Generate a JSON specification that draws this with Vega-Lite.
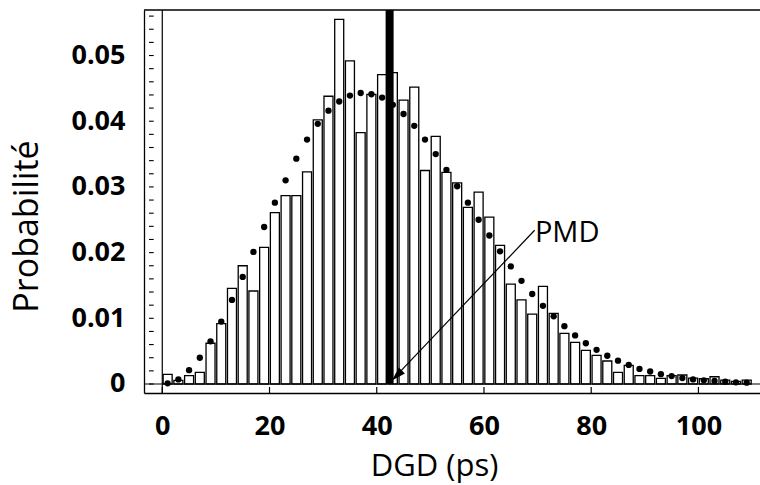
{
  "$schema": "https://vega.github.io/schema/vega-lite/v6.json",
  "width": 616,
  "height": 383,
  "autosize": {"type": "none"},
  "padding": {"left": 144, "top": 10, "right": 0, "bottom": 92},
  "background": "white",
  "config": {
    "view": {"stroke": null},
    "axis": {"grid": false, "domainColor": "black", "tickColor": "black", "labelColor": "black", "titleColor": "black", "labelFont": "Open Sans", "titleFont": "Open Sans"}
  },
  "datasets": {
    "dgd": [
      {"dgd": 1, "sim": 0.00147, "theo": 0.0001},
      {"dgd": 3, "sim": 0.00056, "theo": 0.0007},
      {"dgd": 5, "sim": 0.00127, "theo": 0.0021},
      {"dgd": 7, "sim": 0.00178, "theo": 0.0040},
      {"dgd": 9, "sim": 0.0062, "theo": 0.0065},
      {"dgd": 11, "sim": 0.00918, "theo": 0.0095},
      {"dgd": 13, "sim": 0.01456, "theo": 0.0128},
      {"dgd": 15, "sim": 0.0180, "theo": 0.0163},
      {"dgd": 17, "sim": 0.01416, "theo": 0.0201},
      {"dgd": 19, "sim": 0.0208, "theo": 0.0239},
      {"dgd": 21, "sim": 0.0261, "theo": 0.0276},
      {"dgd": 23, "sim": 0.02867, "theo": 0.0310},
      {"dgd": 25, "sim": 0.02867, "theo": 0.0343},
      {"dgd": 27, "sim": 0.0323, "theo": 0.0372},
      {"dgd": 29, "sim": 0.0402, "theo": 0.0396},
      {"dgd": 31, "sim": 0.0438, "theo": 0.0416},
      {"dgd": 33, "sim": 0.0555, "theo": 0.0430},
      {"dgd": 35, "sim": 0.0492, "theo": 0.0439},
      {"dgd": 37, "sim": 0.03825, "theo": 0.0443},
      {"dgd": 39, "sim": 0.0441, "theo": 0.0441},
      {"dgd": 41, "sim": 0.0471, "theo": 0.0436},
      {"dgd": 43, "sim": 0.0474, "theo": 0.0425},
      {"dgd": 45, "sim": 0.0432, "theo": 0.0411},
      {"dgd": 47, "sim": 0.0452, "theo": 0.0393},
      {"dgd": 49, "sim": 0.0325, "theo": 0.0372},
      {"dgd": 51, "sim": 0.0377, "theo": 0.0350},
      {"dgd": 53, "sim": 0.0322, "theo": 0.0326},
      {"dgd": 55, "sim": 0.0306, "theo": 0.0301},
      {"dgd": 57, "sim": 0.0269, "theo": 0.0276},
      {"dgd": 59, "sim": 0.0292, "theo": 0.0250},
      {"dgd": 61, "sim": 0.0254, "theo": 0.0226},
      {"dgd": 63, "sim": 0.0211, "theo": 0.0202},
      {"dgd": 65, "sim": 0.0152, "theo": 0.0179},
      {"dgd": 67, "sim": 0.0128, "theo": 0.0157},
      {"dgd": 69, "sim": 0.01065, "theo": 0.0137},
      {"dgd": 71, "sim": 0.01487, "theo": 0.0119},
      {"dgd": 73, "sim": 0.01076, "theo": 0.0103},
      {"dgd": 75, "sim": 0.0077, "theo": 0.0088},
      {"dgd": 77, "sim": 0.00635, "theo": 0.0074},
      {"dgd": 79, "sim": 0.00513, "theo": 0.0062},
      {"dgd": 81, "sim": 0.00437, "theo": 0.0052},
      {"dgd": 83, "sim": 0.0035, "theo": 0.0043},
      {"dgd": 85, "sim": 0.00178, "theo": 0.00355},
      {"dgd": 87, "sim": 0.00285, "theo": 0.0029},
      {"dgd": 89, "sim": 0.00127, "theo": 0.0023},
      {"dgd": 91, "sim": 0.00127, "theo": 0.0019},
      {"dgd": 93, "sim": 0.00086, "theo": 0.0015},
      {"dgd": 95, "sim": 0.00127, "theo": 0.0012},
      {"dgd": 97, "sim": 0.00137, "theo": 0.0009},
      {"dgd": 99, "sim": 0.0009, "theo": 0.0007},
      {"dgd": 101, "sim": 0.0008, "theo": 0.00056},
      {"dgd": 103, "sim": 0.0011, "theo": 0.00046},
      {"dgd": 105, "sim": 0.0006, "theo": 0.00035},
      {"dgd": 107, "sim": 0.0004, "theo": 0.00025},
      {"dgd": 109, "sim": 0.0006, "theo": 0.0002}
    ],
    "yticks": [
      {"t": 0}, {"t": 0.002}, {"t": 0.004}, {"t": 0.006}, {"t": 0.008}, {"t": 0.01}, {"t": 0.012}, {"t": 0.014}, {"t": 0.016}, {"t": 0.018},
      {"t": 0.02}, {"t": 0.022}, {"t": 0.024}, {"t": 0.026}, {"t": 0.028}, {"t": 0.03}, {"t": 0.032}, {"t": 0.034}, {"t": 0.036}, {"t": 0.038},
      {"t": 0.04}, {"t": 0.042}, {"t": 0.044}, {"t": 0.046}, {"t": 0.048}, {"t": 0.05}, {"t": 0.052}, {"t": 0.054}, {"t": 0.056}
    ],
    "xticks": [{"t": 0}, {"t": 20}, {"t": 40}, {"t": 60}, {"t": 80}, {"t": 100}]
  },
  "layer": [
    {
      "data": {"name": "dgd"},
      "mark": {"type": "bar", "width": 9, "fill": "white", "stroke": "black", "strokeWidth": 1.3},
      "encoding": {
        "x": {
          "field": "dgd", "type": "quantitative",
          "scale": {"domain": [-2.477, 110.55], "nice": false, "zero": false},
          "axis": {
            "values": [0, 20, 40, 60, 80, 100], "ticks": false, "domainWidth": 1.3,
            "labelPadding": 20, "labelFontSize": 27, "labelFontWeight": "bold", "labelFlush": false, "labelOverlap": false,
            "title": "DGD (ps)", "titleFontSize": 31, "titleFontWeight": 500,
            "titleX": 290, "titleY": 82, "titleBaseline": "alphabetic"
          }
        },
        "y": {
          "field": "sim", "type": "quantitative",
          "scale": {"domain": [-0.00137, 0.05693], "nice": false, "zero": false},
          "axis": {
            "values": [0, 0.01, 0.02, 0.03, 0.04, 0.05], "format": "~g", "ticks": false, "domainWidth": 1.3,
            "labelPadding": 19, "labelFontSize": 27, "labelFontWeight": "bold", "labelOverlap": false, "labelFlush": false,
            "title": "Probabilité", "titleFontSize": 34, "titleFontWeight": 500,
            "titleAngle": 270, "titleX": -106.5, "titleY": 216, "titleBaseline": "alphabetic"
          }
        },
        "y2": {"datum": 0}
      }
    },
    {
      "data": {"name": "yticks"},
      "mark": {"type": "rule", "color": "black", "strokeWidth": 1.1},
      "encoding": {
        "y": {"field": "t", "type": "quantitative"},
        "x": {"datum": -2.477},
        "x2": {"datum": -1.6}
      }
    },
    {
      "data": {"name": "xticks"},
      "mark": {"type": "rule", "color": "black", "strokeWidth": 1.2},
      "encoding": {
        "x": {"field": "t", "type": "quantitative"},
        "y": {"datum": -0.00137},
        "y2": {"datum": -0.00045}
      }
    },
    {
      "data": {"values": [{}]},
      "mark": {"type": "rule", "color": "black", "strokeWidth": 1.2},
      "encoding": {"y": {"datum": 0}}
    },
    {
      "data": {"values": [{}]},
      "mark": {"type": "rule", "color": "black", "strokeWidth": 1.3},
      "encoding": {"y": {"datum": 0.05693}}
    },
    {
      "data": {"values": [{}]},
      "mark": {"type": "rule", "color": "black", "strokeWidth": 1.2},
      "encoding": {"x": {"datum": 0}}
    },
    {
      "data": {"values": [{"pmd": 42.4}]},
      "mark": {"type": "rule", "color": "black", "strokeWidth": 8, "strokeCap": "butt"},
      "encoding": {
        "x": {"field": "pmd", "type": "quantitative"},
        "y": {"datum": 0},
        "y2": {"datum": 0.05693}
      }
    },
    {
      "data": {"name": "dgd"},
      "mark": {"type": "point", "shape": "circle", "filled": true, "color": "black", "size": 40, "opacity": 1},
      "encoding": {
        "x": {"field": "dgd", "type": "quantitative"},
        "y": {"field": "theo", "type": "quantitative"}
      }
    },
    {
      "data": {"values": [{"xs": 69.45, "ys": 0.0234, "xe": 43.7, "ye": 0.0013}]},
      "mark": {"type": "rule", "color": "black", "strokeWidth": 1.2},
      "encoding": {
        "x": {"field": "xs", "type": "quantitative"},
        "y": {"field": "ys", "type": "quantitative"},
        "x2": {"field": "xe"},
        "y2": {"field": "ye"}
      }
    },
    {
      "data": {"values": [{"xa": 43.76, "ya": 0.0013}]},
      "mark": {"type": "point", "shape": "M0,-1L0.6,1L-0.6,1Z", "angle": 225, "size": 200, "filled": true, "color": "black", "opacity": 1},
      "encoding": {
        "x": {"field": "xa", "type": "quantitative"},
        "y": {"field": "ya", "type": "quantitative"}
      }
    },
    {
      "data": {"values": [{"xt": 69.5, "yt": 0.02166, "label": "PMD"}]},
      "mark": {"type": "text", "align": "left", "baseline": "alphabetic", "font": "Open Sans", "fontSize": 29, "color": "black"},
      "encoding": {
        "x": {"field": "xt", "type": "quantitative"},
        "y": {"field": "yt", "type": "quantitative"},
        "text": {"field": "label"}
      }
    }
  ]
}
